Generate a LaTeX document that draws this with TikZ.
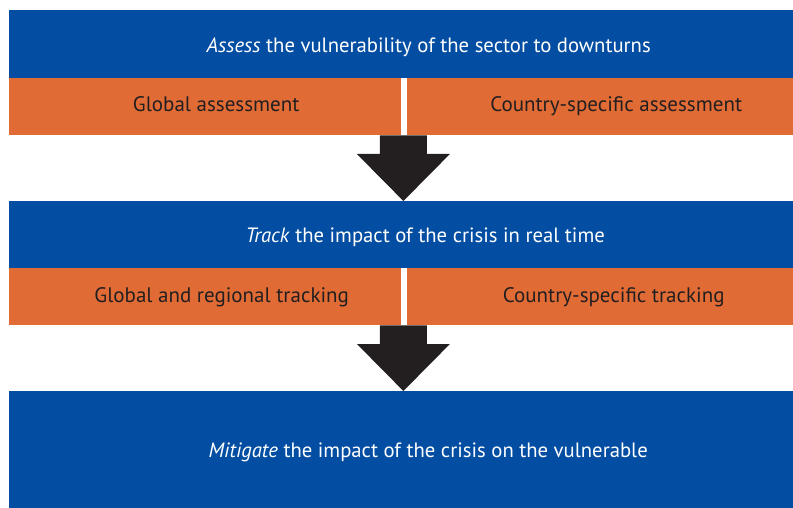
\documentclass[tikz,border=0pt]{standalone}
\usepackage{fontspec}
\setmainfont{PT Sans}
\usetikzlibrary{calc, positioning}
\definecolor{stageblue}{RGB}{3,78,162}
\definecolor{taskorange}{RGB}{224,107,53}
\definecolor{arrowblack}{RGB}{35,31,32}

\begin{document}
\begin{tikzpicture}[x=1pt, y=-1pt]

% TikZ styles
\tikzset{
  stage/.style={rectangle, fill=stageblue, anchor=north west, inner sep=0pt, minimum width=784pt},
  task/.style={rectangle, fill=taskorange, anchor=north west, inner sep=0pt, minimum height=57pt},
  stagetext/.style={anchor=base, inner sep=0pt, text=white, font=\fontsize{20.7}{24}\selectfont},
  tasktext/.style={anchor=base, inner sep=0pt, text=arrowblack, font=\fontsize{21}{24}\selectfont},
  bigarrow/.style={fill=arrowblack}
};

\useasboundingbox (0,0) rectangle (793,508);

%==========================
% Stufe 1: Assess
%==========================
\node[stage, minimum height=68pt] (assess) at (9,10) {};
\node[task, minimum width=392pt] (globalA) at (9,78) {};
\node[task, minimum width=386pt] (countryA) at (407,78) {};

\node[stagetext] (assessT) at ($(assess.north)+(27.5,42.7)$) {\textit{Assess} the vulnerability of the sector to downturns};
\node[tasktext] (globalAT) at ($(globalA.north)+(11,34)$) {Global assessment};
\node[tasktext] (countryAT) at ($(countryA.north)+(16,34)$) {Country-specific assessment};

%==========================
% Stufe 2: Track
%==========================
\node[stage, minimum height=67pt] (track) at (9,201) {};
\node[task, minimum width=392pt] (globalT) at (9,268) {};
\node[task, minimum width=386pt] (countryT) at (407,268) {};

\node[stagetext] (trackT) at ($(track.north)+(24,41.3)$) {\textit{Track} the impact of the crisis in real time};
\node[tasktext] (globalTT) at ($(globalT.north)+(16.5,34)$) {Global and regional tracking};
\node[tasktext] (countryTT) at ($(countryT.north)+(13.5,34)$) {Country-specific tracking};

%==========================
% Stufe 3: Mitigate
%==========================
\node[stage, minimum height=117pt] (mitigate) at (9,391) {};
\node[stagetext] (mitigateT) at ($(mitigate.north)+(27,66.3)$) {\textit{Mitigate} the impact of the crisis on the vulnerable};

% --- Pfeile ---
\coordinate (tailA) at ($(globalA.south east)+(2,0)$);
\coordinate (tipA) at (tailA |- track.north);
\coordinate (tailT) at ($(globalT.south east)+(2,0)$);
\coordinate (tipT) at (tailT |- mitigate.north);

\fill[bigarrow] ($(tailA)+(-23.5,0)$) -- ($(tailA)+(23.5,0)$) -- ($(tipA)+(23.5,-47)$) -- ($(tipA)+(46.5,-47)$)
  -- (tipA) -- ($(tipA)+(-46.5,-47)$) -- ($(tipA)+(-23.5,-47)$) -- cycle;
\fill[bigarrow] ($(tailT)+(-23.5,0)$) -- ($(tailT)+(23.5,0)$) -- ($(tipT)+(23.5,-47)$) -- ($(tipT)+(46.5,-47)$)
  -- (tipT) -- ($(tipT)+(-46.5,-47)$) -- ($(tipT)+(-23.5,-47)$) -- cycle;
\end{tikzpicture}
\end{document}
